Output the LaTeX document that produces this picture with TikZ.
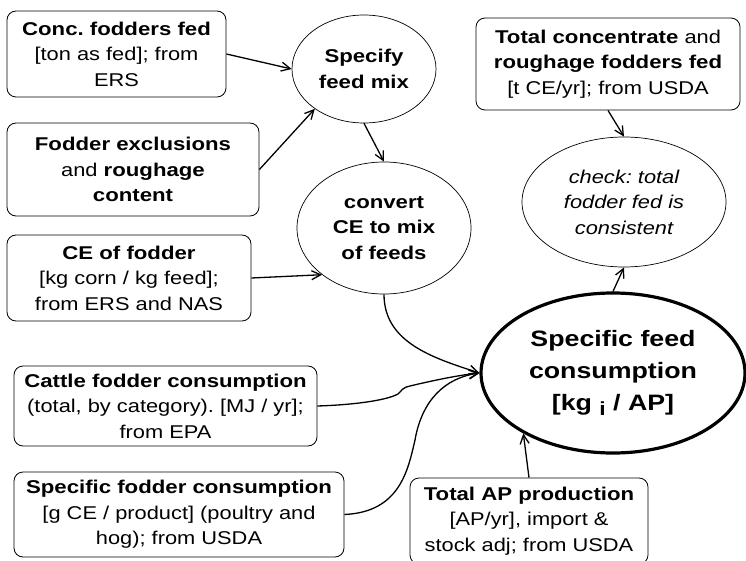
\documentclass[tikz,border=0pt]{standalone}
\usepackage{fontspec}
\setmainfont[FakeStretch=1.18,BoldFeatures={FakeStretch=1.2}]{Liberation Sans}
\usetikzlibrary{shapes.geometric,arrows.meta}
\frenchspacing
\newcommand{\fsn}{\fontsize{18.5}{25.5}\selectfont}
\newcommand{\fsbig}{\fontsize{22.3}{32}\selectfont}
\tikzset{
  box/.style={draw, rounded corners=9pt, line width=0.8pt, align=center, inner sep=2pt, font=\fsn},
  ell/.style={draw, ellipse, line width=0.7pt, align=center, inner sep=0pt, font=\fsn},
  arr/.style={line width=1.3pt, -{Straight Barb[length=9pt,width=9pt,line width=1.3pt]}},
}
\begin{document}
\begin{tikzpicture}[x=1pt,y=-1pt]
\useasboundingbox (0,0) rectangle (746,561);
\clip (0,0) rectangle (746,561);
\node[box, minimum width=219pt, minimum height=86pt] (b1) at (116.5,54)
  {\textbf{Conc. fodders fed}\\{}[ton as fed]; from\\ERS};
\node[box, minimum width=252pt, minimum height=93pt] (b2) at (133,169.5)
  {\textbf{Fodder exclusions}\\and \textbf{roughage}\\\textbf{content}};
\node[box, minimum width=244pt, minimum height=86pt] (b3) at (129,278)
  {\textbf{CE of fodder}\\{}[kg corn / kg feed];\\from ERS and NAS};
\node[box, minimum width=303pt, minimum height=80pt] (b4) at (165.5,406)
  {\textbf{Cattle fodder consumption}\\(total, by category). [MJ / yr];\\from EPA};
\node[box, minimum width=330pt, minimum height=85pt] (b5) at (179,514.5)
  {\textbf{Specific fodder consumption}\\{}[g CE / product] (poultry and\\hog); from USDA};
\node[box, minimum width=238pt, minimum height=86pt] (b6) at (529,521)
  {\textbf{Total AP production}\\{}[AP/yr], import \&\\stock adj; from USDA};
\node[box, minimum width=264pt, minimum height=92pt] (b7) at (608,64)
  {\textbf{Total concentrate} and\\\textbf{roughage fodders fed}\\{}[t CE/yr]; from USDA};
\node[ell, font=\fsn\bfseries, minimum width=144pt, minimum height=108pt] (e1) at (364,69)
  {Specify\\feed mix};
\node[ell, font=\fsn\bfseries, minimum width=174pt, minimum height=132pt] (e2) at (384,228)
  {convert\\CE to mix\\of feeds};
\node[ell, font=\fsn\itshape, minimum width=204pt, minimum height=130pt] (e3) at (624,202)
  {check: total\\fodder fed is\\consistent};
\node[ell, font=\fsbig\bfseries, line width=3.2pt, minimum width=264pt, minimum height=160pt] (e4) at (613,373)
  {Specific feed\\consumption\\{}[kg \raisebox{-5pt}{\fontsize{19}{19}\selectfont i} / AP]};
\draw[arr] (b1.east) -- (e1.west);
\draw[arr] (b2.east) -- (e1.219);
\draw[arr] (e1.south) -- (e2.north);
\draw[arr] (b3.east) -- (e2.217);
\draw[arr] (e2.south) to[out=-90,in=162] (e4.west);
\draw[arr] (b4.east) .. controls (350,405) and (385,401) .. (398,394)
  .. controls (402,391) and (401,388) .. (410,386)
  .. controls (435,380) and (460,375) .. (e4.west);
\draw[arr] (b5.east) .. controls (400,512) and (408,470) .. (415,440)
  .. controls (422,400) and (445,378) .. (e4.west);
\draw[arr] (b6.north) -- (e4.214);
\draw[arr] (e4.north) -- (e3.south);
\draw[arr] (b7.south) -- (e3.north);
\end{tikzpicture}
\end{document}
